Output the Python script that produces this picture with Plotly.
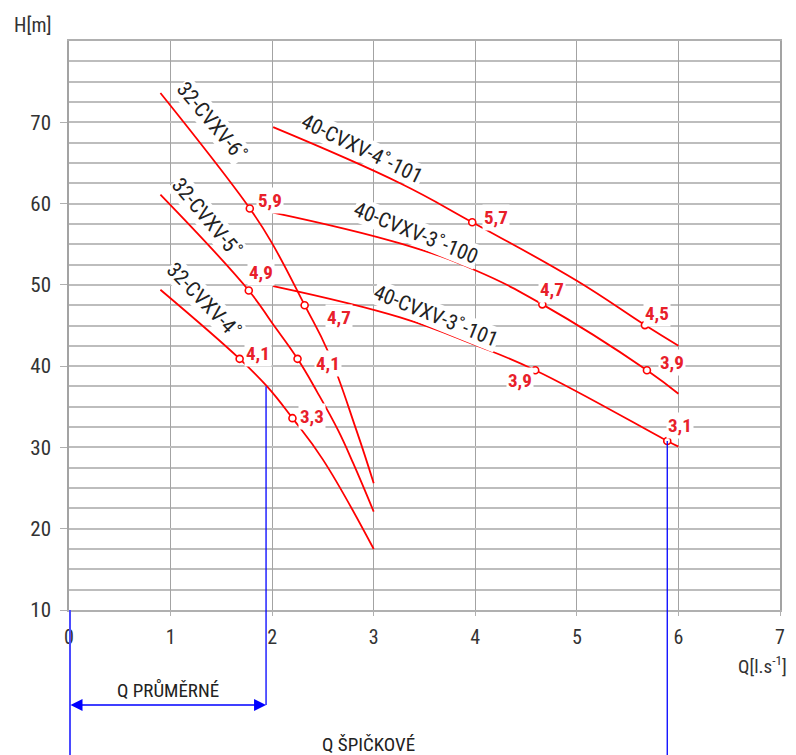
import plotly.graph_objects as go

# ---------------- data ----------------
curve_names = ["32-CVXV-6˚", "32-CVXV-5˚", "32-CVXV-4˚",
               "40-CVXV-4˚-101", "40-CVXV-3˚-100", "40-CVXV-3˚-101"]

c32_6_q = [0.90, 1.78, 2.00, 2.32, 2.55, 2.83, 3.00]
c32_6_h = [73.6, 59.4, 55.1, 47.5, 41.8, 32.1, 25.6]
c32_5_q = [0.90, 1.77, 2.00, 2.25, 2.44, 2.65, 2.80, 3.00]
c32_5_h = [61.1, 49.3, 45.3, 40.9, 36.9, 32.1, 28.0, 22.1]
c32_4_q = [0.90, 1.68, 1.95, 2.20, 2.50, 3.00]
c32_4_h = [49.4, 40.9, 37.5, 33.6, 28.5, 17.5]
c40_4_q = [2.01, 3.26, 3.97, 5.00, 5.67, 6.00]
c40_4_h = [69.4, 62.5, 57.7, 50.5, 45.05, 42.5]
c40_3a_q = [2.01, 3.26, 4.00, 4.66, 5.69, 6.00]
c40_3a_h = [58.9, 55.1, 51.8, 47.6, 39.5, 36.6]
c40_3b_q = [2.01, 3.26, 4.00, 4.59, 5.89, 6.00]
c40_3b_h = [49.85, 46.0, 42.6, 39.5, 30.8, 30.1]

curves_q = [c32_6_q, c32_5_q, c32_4_q, c40_4_q, c40_3a_q, c40_3b_q]
curves_h = [c32_6_h, c32_5_h, c32_4_h, c40_4_h, c40_3a_h, c40_3b_h]

# operating points (Q, H, label)
pt_q = [[1.78, 2.32], [1.77, 2.25], [1.68, 2.20], [3.97, 5.67], [4.66, 5.69], [4.59, 5.89]]
pt_h = [[59.4, 47.5], [49.3, 40.9], [40.9, 33.6], [57.7, 45.05], [47.6, 39.5], [39.5, 30.8]]
pt_lbl = [["5,9", "4,7"], ["4,9", "4,1"], ["4,1", "3,3"], ["5,7", "4,5"], ["4,7", "3,9"], ["3,9", "3,1"]]

q_avg = 1.94      # Q průměrné
q_avg_h = 37.5
q_peak = 5.89     # Q špičkové
q_peak_h = 30.8

x_ticks = [0, 1, 2, 3, 4, 5, 6, 7]
y_ticks = [10, 20, 30, 40, 50, 60, 70]

# ---------------- styling ----------------
FONT = "Roboto Condensed, Liberation Sans Narrow, DejaVu Sans Condensed, Roboto, Arial, sans-serif"
RED = "#ff0000"
LBLRED = "#e8202a"
# pixel offsets of value labels relative to their points
lbl_shift = [[(20, 8), (34, -12)], [(12, 18), (30, -5)], [(18, 5), (20, 2)],
             [(24, 5), (12, 12)], [(10, 15), (25, 8)], [(-15, -10), (13, 15)]]
# name label placement (x, y, angle)
name_pos = [(1.40, 70.1, 50), (1.35, 58.3, 50), (1.32, 48.1, 46),
            (2.885, 66.7, 26), (3.416, 56.35, 22), (3.613, 46.15, 22)]

fig = go.Figure()

for q, h in zip(curves_q, curves_h):
    fig.add_trace(go.Scatter(x=q, y=h, mode="lines",
                             line=dict(color=RED, width=1.8, shape="spline", smoothing=1.2),
                             hoverinfo="skip", showlegend=False))

annotations = []
for i in range(len(curves_q)):
    fig.add_trace(go.Scatter(x=pt_q[i], y=pt_h[i], mode="markers",
                             marker=dict(symbol="circle", size=7, color="white",
                                         line=dict(color=RED, width=1.6)),
                             showlegend=False, hoverinfo="skip"))
    for j in range(2):
        dx, dy = lbl_shift[i][j]
        annotations.append(dict(x=pt_q[i][j], y=pt_h[i][j], text="<b>%s</b>" % pt_lbl[i][j],
                                showarrow=False, xshift=dx, yshift=dy,
                                font=dict(family=FONT, size=19, color=LBLRED),
                                bgcolor="white", borderpad=1))
    nx, ny, ang = name_pos[i]
    annotations.append(dict(x=nx, y=ny, text=curve_names[i], showarrow=False, textangle=ang,
                            font=dict(family=FONT, size=21, color="#222222"),
                            bgcolor="white", borderpad=0))

# axis titles
annotations.append(dict(xref="paper", yref="paper", x=-0.052, y=1.028, text="H[m]", showarrow=False,
                        xanchor="center", yanchor="middle",
                        font=dict(family=FONT, size=20, color="#333333")))
annotations.append(dict(xref="paper", yref="paper", x=0.976, y=-0.097, text="Q[l.s<sup>-1</sup>]",
                        xanchor="center", yanchor="middle",
                        showarrow=False, font=dict(family=FONT, size=19, color="#333333")))

# Q průměrné / špičkové
annotations.append(dict(xref="x", yref="paper", x=q_avg / 2, y=-0.141, text="Q PRŮMĚRNÉ",
                        xanchor="center", yanchor="middle",
                        showarrow=False, font=dict(family=FONT, size=19, color="#222222")))
annotations.append(dict(xref="x", yref="paper", x=q_peak / 2, y=-0.237, text="Q ŠPIČKOVÉ",
                        xanchor="center", yanchor="middle",
                        showarrow=False, font=dict(family=FONT, size=19, color="#222222")))
annotations.append(dict(xref="x", yref="paper", x=q_avg, y=-0.1669, ax=0, axref="x", ay=0, ayref="pixel",
                        text="", showarrow=True, arrowhead=2, arrowside="end+start",
                        arrowsize=1.6, arrowwidth=1.5, arrowcolor="blue", standoff=0, startstandoff=0))

shapes = [
    dict(type="line", xref="x", yref="y", x0=q_avg, x1=q_avg, y0=q_avg_h, y1=10,
         line=dict(color="blue", width=1.3)),
    dict(type="line", xref="x", yref="paper", x0=q_avg, x1=q_avg, y0=0, y1=-0.1669,
         line=dict(color="blue", width=1.3)),
    dict(type="line", xref="x", yref="y", x0=q_peak, x1=q_peak, y0=q_peak_h, y1=10,
         line=dict(color="blue", width=1.3)),
    dict(type="line", xref="x", yref="paper", x0=q_peak, x1=q_peak, y0=0, y1=-0.3,
         line=dict(color="blue", width=1.3)),
    dict(type="line", xref="x", yref="paper", x0=0.01, x1=0.01, y0=0, y1=-0.3,
         line=dict(color="#4a4aff", width=2)),
]

# page body has an 8px default margin, so the figure is 8px smaller and margins shifted
fig.update_layout(
    width=788, height=747,
    margin=dict(l=61, r=16, t=33, b=145, autoexpand=False),
    plot_bgcolor="white", paper_bgcolor="white",
    annotations=annotations, shapes=shapes,
    xaxis=dict(range=[0, 7], tickvals=x_ticks, showgrid=True, gridcolor="#a3a3a3", gridwidth=1.3,
               zeroline=False, showline=True, mirror=True, linecolor="#b0b0b0", linewidth=2,
               ticks="outside", ticklen=4, tickcolor="#b0b0b0", ticklabelstandoff=4,
               automargin=False,
               tickfont=dict(family=FONT, size=20, color="#333333"), fixedrange=True),
    yaxis=dict(range=[10, 80], tickvals=y_ticks, showgrid=True, gridcolor="#bdbdbd", gridwidth=2,
               zeroline=False, showline=True, mirror=True, linecolor="#a3a3a3", linewidth=1.5,
               ticks="outside", ticklen=7, tickcolor="#b0b0b0", ticklabelstandoff=5,
               automargin=False,
               minor=dict(dtick=2.5, tick0=10, showgrid=True, gridcolor="#bdbdbd", gridwidth=2, ticks=""),
               tickfont=dict(family=FONT, size=21, color="#333333"), fixedrange=True),
)

fig.write_html("out.html")
